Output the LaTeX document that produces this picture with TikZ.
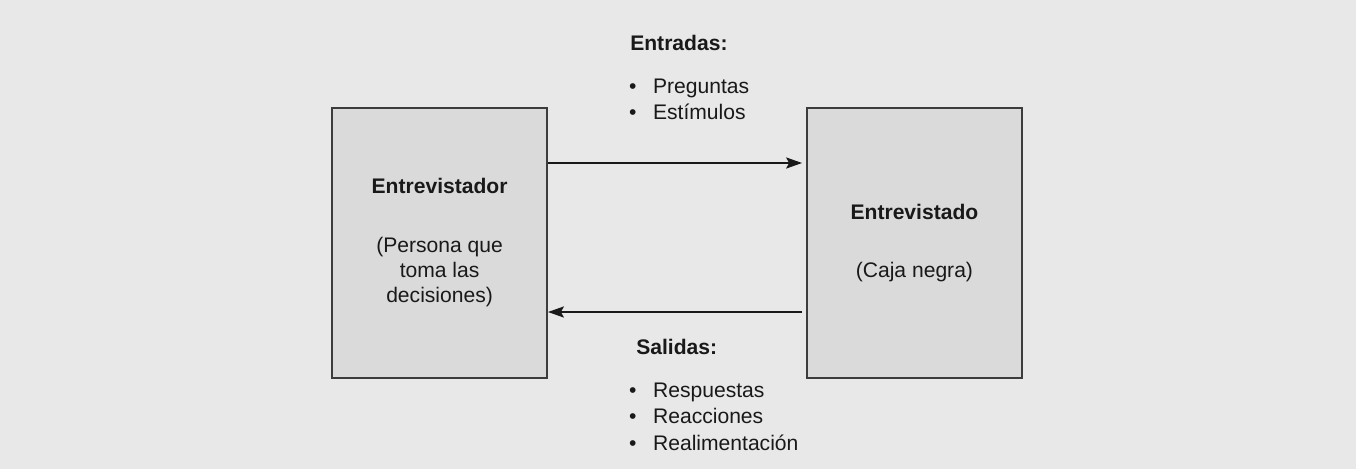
\documentclass[tikz,border=0pt]{standalone}
\usepackage{fontspec}
\setmainfont{Liberation Sans}
\usetikzlibrary{arrows.meta,positioning,calc}
\definecolor{fondo}{RGB}{232,232,232}
\definecolor{caja}{RGB}{218,218,218}
\definecolor{borde}{RGB}{60,60,60}
\definecolor{tinta}{RGB}{25,25,25}
\tikzset{
  >={Stealth[length=4mm,width=2.8mm,inset=0.8mm]},
  bloque/.style={draw=borde,fill=caja,line width=1.3pt,minimum width=5.375cm,
    minimum height=6.75cm,align=center,text=tinta,inner sep=0pt},
  flecha/.style={->,draw=tinta,line width=0.8pt},
  titulo/.style={anchor=base west,text=tinta,inner sep=0pt},
  vineta/.style={anchor=base west,text=tinta,inner sep=0pt},
}
\newcommand{\punto}[1]{\makebox[0.6cm][l]{\textbullet}#1}
\begin{document}
\begin{tikzpicture}[font=\fontsize{15}{17.8}\selectfont]
  \fill[fondo] (0,0) rectangle (33.9,-11.725);
  \useasboundingbox (0,0) rectangle (33.9,-11.725);
  % cajas
  \node[bloque] (izq) at (10.99,-6.075) {\textbf{Entrevistador}\\[0.85cm]
    (Persona que\\toma las\\decisiones)};
  \node[bloque,right=6.45cm of izq] (der) {\textbf{Entrevistado}\\[0.83cm](Caja negra)};
  % flechas
  \draw[flecha,shorten >=0.1cm] ([yshift=2cm]izq.east) -- ([yshift=2cm]der.west);
  \draw[flecha,shorten <=0.1cm] ([yshift=-1.725cm]der.west) -- ([yshift=-1.725cm]izq.east);
  % entradas
  \node[titulo] (entradas) at (15.75,-1.275) {\textbf{Entradas:}};
  \foreach \t [count=\i] in {Preguntas,Estímulos}
    \node[vineta] (ent\i) at ($(entradas.base west)+(-0.03,-1.075-0.65*\i+0.65)$) {\punto{\t}};
  % salidas
  \node[titulo] (salidas) at (15.9,-8.85) {\textbf{Salidas:}};
  \foreach \t [count=\i] in {Respuestas,Reacciones,Realimentación}
    \node[vineta] (sal\i) at ($(salidas.base west)+(-0.18,-1.075-0.67*\i+0.67)$) {\punto{\t}};
\end{tikzpicture}
\end{document}
